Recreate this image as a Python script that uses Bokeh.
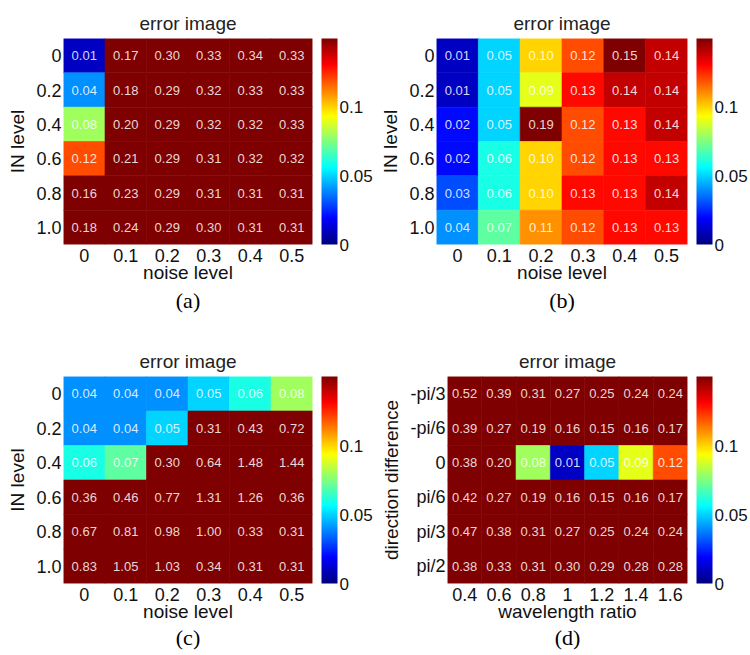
from bokeh.plotting import figure
from bokeh.models import (ColumnDataSource, LinearColorMapper, ColorBar, FixedTicker,
                          FactorRange, Title)
from bokeh.transform import transform
from bokeh.layouts import column, row
from bokeh.embed import file_html
from bokeh.resources import INLINE
from bokeh.core.properties import value

# ---------------- data ----------------
noise_levels = ["0", "0.1", "0.2", "0.3", "0.4", "0.5"]
in_levels = ["0", "0.2", "0.4", "0.6", "0.8", "1.0"]
wavelength_ratios = ["0.4", "0.6", "0.8", "1", "1.2", "1.4", "1.6"]
direction_diffs = ["-pi/3", "-pi/6", "0", "pi/6", "pi/3", "pi/2"]

# rows follow the y labels (top to bottom), columns follow the x labels
err_a = [
    [0.01, 0.17, 0.30, 0.33, 0.34, 0.33],
    [0.04, 0.18, 0.29, 0.32, 0.33, 0.33],
    [0.08, 0.20, 0.29, 0.32, 0.32, 0.33],
    [0.12, 0.21, 0.29, 0.31, 0.32, 0.32],
    [0.16, 0.23, 0.29, 0.31, 0.31, 0.31],
    [0.18, 0.24, 0.29, 0.30, 0.31, 0.31],
]
err_b = [
    [0.01, 0.05, 0.10, 0.12, 0.15, 0.14],
    [0.01, 0.05, 0.09, 0.13, 0.14, 0.14],
    [0.02, 0.05, 0.19, 0.12, 0.13, 0.14],
    [0.02, 0.06, 0.10, 0.12, 0.13, 0.13],
    [0.03, 0.06, 0.10, 0.13, 0.13, 0.14],
    [0.04, 0.07, 0.11, 0.12, 0.13, 0.13],
]
err_c = [
    [0.04, 0.04, 0.04, 0.05, 0.06, 0.08],
    [0.04, 0.04, 0.05, 0.31, 0.43, 0.72],
    [0.06, 0.07, 0.30, 0.64, 1.48, 1.44],
    [0.36, 0.46, 0.77, 1.31, 1.26, 0.36],
    [0.67, 0.81, 0.98, 1.00, 0.33, 0.31],
    [0.83, 1.05, 1.03, 0.34, 0.31, 0.31],
]
err_d = [
    [0.52, 0.39, 0.31, 0.27, 0.25, 0.24, 0.24],
    [0.39, 0.27, 0.19, 0.16, 0.15, 0.16, 0.17],
    [0.38, 0.20, 0.08, 0.01, 0.05, 0.09, 0.12],
    [0.42, 0.27, 0.19, 0.16, 0.15, 0.16, 0.17],
    [0.47, 0.38, 0.31, 0.27, 0.25, 0.24, 0.24],
    [0.38, 0.33, 0.31, 0.30, 0.29, 0.28, 0.28],
]
color_low, color_high = 0.0, 0.15
colorbar_ticks = [0, 0.05, 0.1]
colorbar_labels = ["0", "0.05", "0.1"]

FONT = "Liberation Sans"


def jet(n=256):
    out = []
    for i in range(n):
        v = i / (n - 1)
        r = min(max(1.5 - abs(4 * v - 3), 0), 1)
        g = min(max(1.5 - abs(4 * v - 2), 0), 1)
        b = min(max(1.5 - abs(4 * v - 1), 0), 1)
        out.append("#%02x%02x%02x" % (int(r * 255), int(g * 255), int(b * 255)))
    return out


PALETTE = jet()


def panel(xs, ys, mat, xlabel, ylabel, caption, width, height, bl, br, bt, bb,
          frame_h, cap_standoff):
    xx, yy, vv, tt = [], [], [], []
    for yi, vals in zip(ys, mat):
        for xi, v in zip(xs, vals):
            xx.append(xi)
            yy.append(yi)
            vv.append(v)
            tt.append("%.2f" % v)
    src = ColumnDataSource(dict(x=xx, y=yy, v=vv, t=tt))
    mapper = LinearColorMapper(palette=PALETTE, low=color_low, high=color_high)

    p = figure(x_range=FactorRange(factors=xs),
               y_range=FactorRange(factors=list(reversed(ys))),
               width=width, height=height,
               min_border_left=bl, min_border_right=br,
               min_border_top=bt, min_border_bottom=bb,
               output_backend="svg", toolbar_location=None,
               title="error image")
    p.title.align = "center"
    p.title.text_font = FONT
    p.title.text_font_size = "19px"
    p.title.text_font_style = "normal"
    p.title.text_color = "#222222"
    p.title.standoff = 10

    p.rect("x", "y", 1, 1, source=src,
           fill_color=transform("v", mapper),
           line_color=transform("v", mapper), line_width=0.6)
    p.text("x", "y", text="t", source=src, text_align="center",
           text_baseline="middle", text_font=value(FONT),
           text_font_size="13px", text_color="#ffffff", text_alpha=0.85)

    p.xaxis.axis_label = xlabel
    p.yaxis.axis_label = ylabel
    for ax in (p.xaxis, p.yaxis):
        ax.axis_line_color = None
        ax.major_tick_line_color = None
        ax.minor_tick_line_color = None
        ax.major_tick_in = 0
        ax.major_tick_out = 0
        ax.minor_tick_in = 0
        ax.minor_tick_out = 0
        ax.major_label_text_font = FONT
        ax.major_label_text_font_size = "18px"
        ax.major_label_text_color = "#111111"
        ax.axis_label_text_font = FONT
        ax.axis_label_text_font_size = "19px"
        ax.axis_label_text_font_style = "normal"
        ax.axis_label_text_color = "#111111"
    p.xaxis.major_label_standoff = 4
    p.xaxis.axis_label_standoff = -3
    p.yaxis.major_label_standoff = 2
    p.yaxis.axis_label_standoff = 5
    p.grid.grid_line_color = None
    p.outline_line_color = None

    # invisible spacer between the image and the colour bar
    p.add_layout(Title(text=" ", text_font_size="1px", standoff=6), "right")

    cb = ColorBar(color_mapper=mapper, ticker=FixedTicker(ticks=colorbar_ticks),
                  major_label_overrides={t: l for t, l in zip(colorbar_ticks, colorbar_labels)},
                  width=16, height=frame_h, padding=0, margin=0,
                  label_standoff=2,
                  major_label_text_font=FONT, major_label_text_font_size="17px",
                  major_label_text_color="#111111",
                  major_tick_line_color=None, minor_tick_line_color=None,
                  bar_line_color=None, border_line_color=None,
                  background_fill_color=None)
    p.add_layout(cb, "right")

    cap = Title(text=caption, align="center", text_font="Liberation Serif",
                text_font_size="22px", text_font_style="normal",
                text_color="#000000", standoff=cap_standoff)
    p.add_layout(cap, "below")
    return p


pa = panel(noise_levels, in_levels, err_a, "noise level", "IN level", "(a)",
           375, 325, 63, 60, 38, 81, 206, 0)
pb = panel(noise_levels, in_levels, err_b, "noise level", "IN level", "(b)",
           375, 325, 61, 63, 38, 81, 206, 0)
pc = panel(noise_levels, in_levels, err_c, "noise level", "IN level", "(c)",
           375, 330, 63, 60, 51, 72, 207, -4)
pd = panel(wavelength_ratios, direction_diffs, err_d, "wavelength ratio",
           "direction difference", "(d)", 375, 330, 72, 63, 51, 72, 207, -4)

layout = column(row(pa, pb), row(pc, pd))
open("out.html", "w").write(file_html(layout, INLINE))
